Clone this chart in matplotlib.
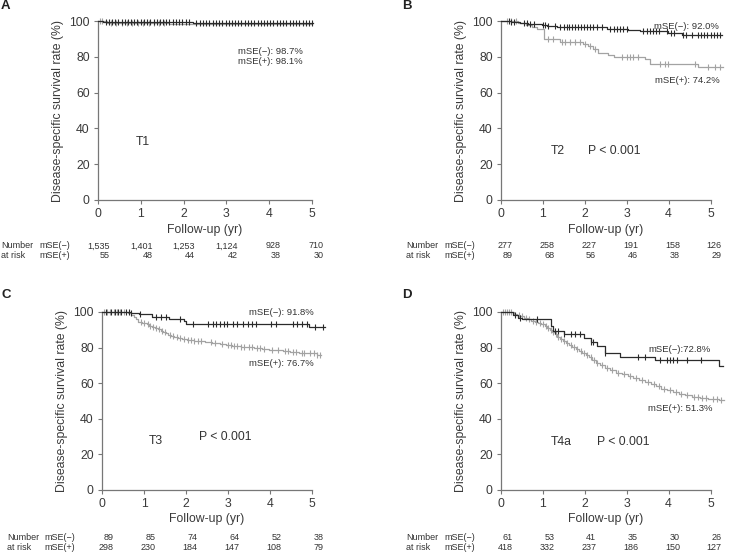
import numpy as np
import matplotlib
matplotlib.use("Agg")
import matplotlib.pyplot as plt
import matplotlib.transforms as mtransforms

plt.rcParams['font.family'] = ['Liberation Sans', 'DejaVu Sans']

W, H = 730, 554
DPI = 100

years = [0, 1, 2, 3, 4, 5]
yticks = [0, 20, 40, 60, 80, 100]

# ---------------- Panel A (T1) ----------------
a_neg_t = [0, 0.12, 1.62, 2.22]
a_neg_s = [100, 99.6, 99.2, 98.7]
a_neg_end = 5.03
a_neg_cens = [0.18, 0.25, 0.32, 0.4, 0.47, 0.55, 0.62, 0.7, 0.77, 0.85, 0.92, 1.0, 1.07, 1.15,
              1.22, 1.3, 1.37, 1.45, 1.52, 1.6, 1.67, 1.75, 1.82, 1.9, 1.97, 2.05, 2.12, 2.3,
              2.38, 2.45, 2.53, 2.6, 2.68, 2.75, 2.83, 2.9, 2.98, 3.05, 3.13, 3.2, 3.28, 3.35,
              3.43, 3.5, 3.58, 3.65, 3.73, 3.8, 3.88, 3.95, 4.03, 4.1, 4.18, 4.25, 4.33, 4.4,
              4.48, 4.55, 4.63, 4.7, 4.78, 4.85, 4.93, 5.0]
a_pos_t = [0, 0.2, 1.65]
a_pos_s = [100, 99.1, 98.1]
a_pos_end = 5.0
a_pos_cens = [0.05, 0.1, 0.3, 0.42, 0.55, 0.68, 0.8, 0.93, 1.05, 1.18, 1.3, 1.43, 1.55]
a_risk_neg = ["1,535", "1,401", "1,253", "1,124", "928", "710"]
a_risk_pos = ["55", "48", "44", "42", "38", "30"]

# ---------------- Panel B (T2) ----------------
b_neg_t = [0, 0.25, 0.45, 0.65, 0.97, 1.1, 1.33, 2.52, 3.04, 3.32, 3.99, 4.31]
b_neg_s = [100, 99.5, 99.0, 98.4, 97.8, 97.2, 96.6, 95.8, 95.0, 94.2, 93.3, 92.0]
b_neg_end = 5.27
b_neg_cens = [0.2, 0.25, 0.3, 0.55, 0.62, 0.7, 0.78, 1.0, 1.05, 1.12, 1.3, 1.42, 1.5, 1.57,
              1.63, 1.7, 1.77, 1.83, 1.9, 1.97, 2.05, 2.12, 2.2, 2.3, 2.4, 2.6, 2.7, 2.77,
              2.85, 2.92, 3.0, 3.4, 3.48, 3.55, 3.63, 3.7, 3.78, 3.95, 4.05, 4.12, 4.35,
              4.42, 4.55, 4.7, 4.78, 4.85, 4.92, 5.0, 5.08, 5.15, 5.22]
b_pos_t = [0, 0.41, 0.6, 0.73, 0.87, 1.03, 1.41, 1.96, 2.08, 2.2, 2.32, 2.56, 2.7, 3.44, 3.56, 4.71]
b_pos_s = [100, 98.9, 97.8, 96.6, 95.5, 89.9, 88.1, 87.0, 85.8, 84.6, 82.2, 81.0, 80.0, 78.6, 76.2, 74.2]
b_pos_end = 5.3
b_pos_cens = [0.15, 0.25, 0.35, 1.12, 1.25, 1.45, 1.53, 1.65, 1.77, 1.89, 2.0, 2.12, 2.24,
              2.88, 3.0, 3.08, 3.16, 3.28, 3.79, 3.91, 3.99, 4.63, 4.95, 5.11, 5.23]
b_risk_neg = ["277", "258", "227", "191", "158", "126"]
b_risk_pos = ["89", "68", "56", "46", "38", "29"]

# ---------------- Panel C (T3) ----------------
c_neg_t = [0, 0.7, 0.88, 1.18, 1.6, 1.95, 2.0, 4.93]
c_neg_s = [100, 99.3, 98.6, 97.4, 96.0, 94.8, 93.5, 91.8]
c_neg_end = 5.3
c_neg_cens = [0.1, 0.22, 0.3, 0.38, 0.46, 0.56, 0.64, 0.7, 0.9, 1.29, 1.41, 1.53, 1.85, 2.17,
              2.52, 2.64, 2.72, 2.8, 2.9, 2.98, 3.12, 3.21, 3.36, 3.48, 3.58, 3.67, 4.03,
              4.15, 4.55, 4.65, 4.75, 4.87, 5.06, 5.26]
c_pos_t = [0, 0.62, 0.70, 0.76, 0.80, 0.86, 0.95, 1.06, 1.12, 1.18, 1.25, 1.33, 1.40, 1.46,
           1.52, 1.58, 1.65, 1.72, 1.80, 1.90, 2.02, 2.20, 2.45, 2.62, 2.80, 2.96, 3.10,
           3.30, 3.45, 3.62, 3.80, 3.98, 4.15, 4.30, 4.48, 4.70, 4.90, 5.12]
c_pos_s = [100, 99.3, 98.2, 97.0, 95.8, 94.6, 93.8, 93.0, 92.3, 91.6, 91.0, 90.2, 89.5, 88.7,
           88.0, 87.2, 86.5, 85.8, 85.2, 84.6, 84.0, 83.6, 83.2, 82.8, 82.2, 81.5, 81.0,
           80.6, 80.2, 79.8, 79.4, 78.9, 78.4, 77.9, 77.4, 77.0, 76.7, 76.0]
c_pos_end = 5.22
c_pos_cens = [0.05, 0.12, 0.2, 0.28, 0.36, 0.44, 0.52, 0.92, 1.0, 1.09, 1.15, 1.22, 1.29,
              1.36, 1.43, 1.5, 1.62, 1.7, 1.78, 1.86, 1.95, 2.05, 2.12, 2.2, 2.28, 2.36,
              2.6, 2.7, 2.85, 3.0, 3.06, 3.14, 3.22, 3.3, 3.38, 3.5, 3.58, 3.7, 3.76, 3.85,
              4.05, 4.2, 4.35, 4.42, 4.55, 4.62, 4.75, 4.82, 4.95, 5.05, 5.12, 5.2]
c_risk_neg = ["89", "85", "74", "64", "52", "38"]
c_risk_pos = ["298", "230", "184", "147", "108", "79"]

# ---------------- Panel D (T4a) ----------------
d_neg_t = [0, 0.28, 0.40, 0.50, 1.20, 1.25, 1.50, 1.98, 2.14, 2.30, 2.48, 2.84, 3.67, 5.20]
d_neg_s = [100, 98.4, 96.8, 95.8, 92.1, 89.2, 87.4, 85.2, 83.2, 80.9, 77.2, 74.9, 72.8, 69.8]
d_neg_end = 5.31
d_neg_cens = [0.33, 0.45, 0.86, 1.3, 1.36, 1.5, 1.66, 1.76, 1.88, 2.15, 2.2, 2.49, 3.26, 3.43,
              3.8, 3.95, 4.03, 4.1, 4.2, 4.44, 4.78]
d_pos_t = [0, 0.3, 0.38, 0.46, 0.55, 0.64, 0.72, 0.8, 0.88, 0.96, 1.04, 1.1, 1.16, 1.22,
           1.28, 1.34, 1.4, 1.47, 1.54, 1.62, 1.7, 1.78, 1.86, 1.94, 2.02, 2.1, 2.18, 2.26,
           2.36, 2.48, 2.6, 2.74, 2.88, 3.02, 3.16, 3.3, 3.44, 3.58, 3.7, 3.82, 3.96, 4.1,
           4.25, 4.4, 4.56, 4.75, 4.95, 5.2]
d_pos_s = [100, 99.0, 98.2, 97.5, 96.8, 96.0, 95.2, 94.5, 93.8, 93.0, 92.0, 91.0, 89.8, 88.6,
           87.4, 86.2, 85.0, 83.8, 82.6, 81.5, 80.4, 79.3, 78.2, 77.0, 75.8, 74.5, 73.0, 71.5,
           70.0, 68.5, 67.2, 66.0, 64.9, 63.8, 62.8, 61.8, 60.8, 59.6, 58.2, 57.0, 56.0, 55.0,
           54.2, 53.4, 52.5, 51.8, 51.3, 50.7]
d_pos_end = 5.32
d_pos_cens = [0.05, 0.1, 0.15, 0.2, 0.25, 0.42, 0.5, 0.6, 0.68, 0.76, 0.84, 0.92, 1.0, 1.07,
              1.13, 1.19, 1.25, 1.31, 1.37, 1.44, 1.5, 1.58, 1.66, 1.74, 1.82, 1.9, 1.98,
              2.06, 2.14, 2.22, 2.3, 2.42, 2.54, 2.66, 2.8, 2.94, 3.08, 3.22, 3.36, 3.5,
              3.64, 3.76, 3.9, 4.03, 4.17, 4.3, 4.45, 4.6, 4.7, 4.8, 4.9, 5.05, 5.15, 5.25]
d_risk_neg = ["61", "53", "41", "35", "30", "26"]
d_risk_pos = ["418", "332", "237", "186", "150", "127"]

NEG_COLOR = '#2b2b2b'
POS_COLOR = '#a3a3a3'
AX_COLOR = '#777777'
TXT_COLOR = '#333333'
LBL_COLOR = '#3a3a3a'

XMAX, YMAX = 5.35, 101.5

fig = plt.figure(figsize=(W / DPI, H / DPI), dpi=DPI)


def make_ax(left_px, y0_px, px_per_yr, px_per_pct):
    w = XMAX * px_per_yr
    h = YMAX * px_per_pct
    ax = fig.add_axes([left_px / W, (H - y0_px) / H, w / W, h / H])
    ax.set_xlim(0, XMAX)
    ax.set_ylim(0, YMAX)
    for s in ['top', 'right']:
        ax.spines[s].set_visible(False)
    for s in ['left', 'bottom']:
        ax.spines[s].set_color(AX_COLOR)
        ax.spines[s].set_linewidth(0.9)
    ax.spines['bottom'].set_bounds(0, 5)
    ax.spines['left'].set_bounds(0, 100)
    ax.set_xticks(years)
    ax.set_yticks(yticks)
    ax.tick_params(direction='out', length=3, width=0.8, color=AX_COLOR,
                   labelsize=8.8, labelcolor=LBL_COLOR, pad=2.5)
    ax.tick_params(axis='y', pad=3)
    ax.patch.set_visible(False)
    return ax


def km(ax, t, s, end, cens, color, lw=0.9):
    tt = list(t) + [end]
    ss = list(s) + [s[-1]]
    ax.step(tt, ss, where='post', color=color, lw=lw, clip_on=False, zorder=3)
    ta = np.asarray(t)
    sa = np.asarray(s)
    c = np.asarray(cens)
    idx = np.searchsorted(ta, c, side='right') - 1
    ax.plot(c, sa[idx], ls='none', marker='|', ms=4.2, mew=0.8, color=color,
            clip_on=False, zorder=3)


def decorate(ax, P):
    fig.text(P['lxy'][0] / W, 1 - P['lxy'][1] / H, P['letter'], fontsize=9.5,
             fontweight='bold', ha='left', va='top', color='#222222')
    # y label centred ~40 px left of the y axis
    ax.text(-40 / P['ppy'], 50, "Disease-specific survival rate (%)", rotation=90,
            ha='center', va='center', fontsize=8.8, color=LBL_COLOR, clip_on=False)
    ax.text(2.5, -16.5, "Follow-up (yr)", ha='center', va='center', fontsize=8.8,
            color=LBL_COLOR, clip_on=False)
    ax.text(P['tpos'][0], P['tpos'][1], P['t'], ha='center', va='center', fontsize=8.8,
            color=TXT_COLOR)
    if P['p']:
        ax.text(P['ppos'][0], P['ppos'][1], P['p'], ha='left', va='center', fontsize=8.8,
                color=TXT_COLOR)
    ax.text(P['npos'][0], P['npos'][1], P['ntxt'], ha='left', va='center', fontsize=6.8,
            color=TXT_COLOR)
    ax.text(P['ppos2'][0], P['ppos2'][1], P['ptxt'], ha='left', va='center', fontsize=6.8,
            color=TXT_COLOR)
    h_px = YMAX * P['ppp']
    tr = mtransforms.blended_transform_factory(ax.transData, ax.transAxes)
    rows = [("Number", "mSE(\u2212)", P['rn']), ("at risk", "mSE(+)", P['rp'])]
    for (lab1, lab2, vals), ypx in zip(rows, P['rows']):
        yfrac = (P['y0'] - ypx) / h_px
        ax.text(-2.26, yfrac, lab1, transform=tr, ha='left', va='center', fontsize=6.5,
                color=TXT_COLOR, clip_on=False)
        ax.text(-1.36, yfrac, lab2, transform=tr, ha='left', va='center', fontsize=6.5,
                color=TXT_COLOR, clip_on=False)
        for yr, v in zip(years, vals):
            ax.text(yr + 0.27, yfrac, v, transform=tr, ha='right', va='center', fontsize=6.5,
                    color=TXT_COLOR, clip_on=False)


panels = [
    dict(left=98, y0=200, ppy=42.8, ppp=1.79, letter='A', lxy=(1, 0),
         neg=(a_neg_t, a_neg_s, a_neg_end, a_neg_cens), pos=(a_pos_t, a_pos_s, a_pos_end, a_pos_cens),
         t='T1', tpos=(1.05, 32.4), p=None, ppos=None,
         ntxt="mSE(\u2212): 98.7%", npos=(3.27, 82.7), ptxt="mSE(+): 98.1%", ppos2=(3.27, 77.1),
         rn=a_risk_neg, rp=a_risk_pos, rows=(246, 256)),
    dict(left=501, y0=200, ppy=41.9, ppp=1.79, letter='B', lxy=(402, 0),
         neg=(b_neg_t, b_neg_s, b_neg_end, b_neg_cens), pos=(b_pos_t, b_pos_s, b_pos_end, b_pos_cens),
         t='T2', tpos=(1.36, 27.4), p='P < 0.001', ppos=(2.08, 27.4),
         ntxt="mSE(\u2212): 92.0%", npos=(3.65, 97.2), ptxt="mSE(+): 74.2%", ppos2=(3.67, 67.0),
         rn=b_risk_neg, rp=b_risk_pos, rows=(246, 256)),
    dict(left=102, y0=490, ppy=42.0, ppp=1.78, letter='C', lxy=(2, 289),
         neg=(c_neg_t, c_neg_s, c_neg_end, c_neg_cens), pos=(c_pos_t, c_pos_s, c_pos_end, c_pos_cens),
         t='T3', tpos=(1.28, 27.5), p='P < 0.001', ppos=(2.31, 29.9),
         ntxt="mSE(\u2212): 91.8%", npos=(3.5, 99.8), ptxt="mSE(+): 76.7%", ppos2=(3.5, 71.2),
         rn=c_risk_neg, rp=c_risk_pos, rows=(537, 547)),
    dict(left=501, y0=490, ppy=41.9, ppp=1.78, letter='D', lxy=(402, 289),
         neg=(d_neg_t, d_neg_s, d_neg_end, d_neg_cens), pos=(d_pos_t, d_pos_s, d_pos_end, d_pos_cens),
         t='T4a', tpos=(1.43, 26.8), p='P < 0.001', ppos=(2.29, 26.8),
         ntxt="mSE(\u2212):72.8%", npos=(3.51, 79.0), ptxt="mSE(+): 51.3%", ppos2=(3.51, 45.9),
         rn=d_risk_neg, rp=d_risk_pos, rows=(537, 547)),
]

for P in panels:
    ax = make_ax(P['left'], P['y0'], P['ppy'], P['ppp'])
    km(ax, *P['pos'], color=POS_COLOR)
    km(ax, *P['neg'], color=NEG_COLOR)
    decorate(ax, P)

fig.savefig('out.png', dpi=DPI)
